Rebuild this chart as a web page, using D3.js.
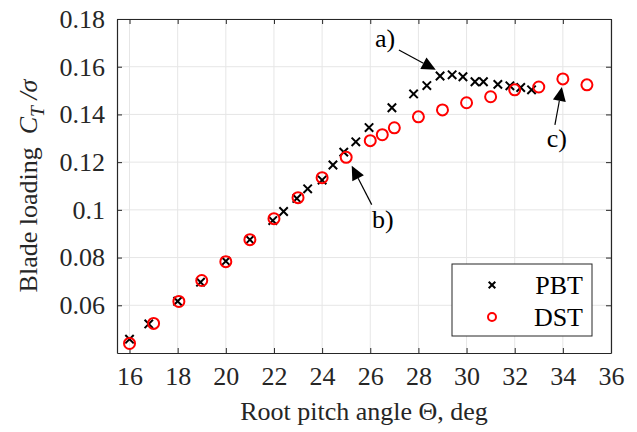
<!DOCTYPE html>
<html>
<head>
<meta charset="utf-8">
<script src="https://cdn.jsdelivr.net/npm/d3@7"></script>
<style>
  html, body { margin: 0; padding: 0; background: #fff; }
  svg { display: block; font-family: "Liberation Serif", "Times New Roman", serif; }
  text { white-space: pre; }
</style>
</head>
<body>
<svg id="chart" width="637" height="432"></svg>
<script>
// ---- data ----
const pbtPitch = [16, 16.8, 18.0, 18.95, 20, 21, 21.95, 22.4, 22.95, 23.4, 24.0, 24.45, 24.9, 25.4, 25.95, 26.9, 27.8, 28.35, 28.9, 29.4, 29.85, 30.35, 30.7, 31.3, 31.8, 32.25, 32.7];
const pbtLoad  = [0.0458, 0.0522, 0.0617, 0.0697, 0.0785, 0.0875, 0.0955, 0.0993, 0.1048, 0.1088, 0.1125, 0.1188, 0.1242, 0.1285, 0.1345, 0.1428, 0.1486, 0.1521, 0.1561, 0.1566, 0.1558, 0.1537, 0.1537, 0.1526, 0.1520, 0.1513, 0.1503];
const dstPitch = [16, 17, 18.05, 19, 20, 21, 22, 23, 24, 25, 26, 26.5, 27, 28, 29, 30, 31, 32, 33, 34, 35];
const dstLoad  = [0.0440, 0.0524, 0.0616, 0.0704, 0.0783, 0.0875, 0.0963, 0.1051, 0.1135, 0.1220, 0.1290, 0.1315, 0.1344, 0.1390, 0.1419, 0.1449, 0.1474, 0.1503, 0.1515, 0.1549, 0.1524];
const xTicks = [16, 18, 20, 22, 24, 26, 28, 30, 32, 34, 36];
const yTicks = [0.06, 0.08, 0.1, 0.12, 0.14, 0.16, 0.18];
const seriesNames = ["PBT", "DST"];
// annotations: [label, tailX, tailY, tipX, tipY, textX, textY]
const annotations = [
  ["a)", 27.19, 0.1670, 28.72, 0.1587, 26.62, 0.1683],
  ["b)", 26.06, 0.1022, 25.23, 0.1185, 26.52, 0.0925],
  ["c)", 33.67, 0.1356, 33.96, 0.1515, 33.75, 0.1262]
];

// ---- layout ----
const W = 637, H = 432;
const m = {left: 117, right: 26, top: 19, bottom: 79};
const svg = d3.select("#chart");
const x = d3.scaleLinear().domain([15.48, 36]).range([m.left, W - m.right]);
const y = d3.scaleLinear().domain([0.04, 0.18]).range([H - m.bottom, m.top]);
const axisCol = "#262626";
const fs = 26;

// grid
const g = svg.append("g");
g.selectAll(".gx").data(xTicks).join("line")
  .attr("x1", d => x(d)).attr("x2", d => x(d))
  .attr("y1", y.range()[0]).attr("y2", y.range()[1])
  .attr("stroke", "#e6e6e6").attr("stroke-width", 1);
g.selectAll(".gy").data(yTicks).join("line")
  .attr("y1", d => y(d)).attr("y2", d => y(d))
  .attr("x1", x.range()[0]).attr("x2", x.range()[1])
  .attr("stroke", "#e6e6e6").attr("stroke-width", 1);

// axes
const fmt = d => String(+d.toFixed(2));
const xb = svg.append("g").attr("transform", `translate(0,${y.range()[0]})`)
  .call(d3.axisBottom(x).tickValues(xTicks).tickSizeInner(-5).tickSizeOuter(0).tickPadding(14).tickFormat(d3.format("d")));
const xt = svg.append("g").attr("transform", `translate(0,${y.range()[1]})`)
  .call(d3.axisTop(x).tickValues(xTicks).tickSizeInner(-5).tickSizeOuter(0).tickFormat(""));
const yl = svg.append("g").attr("transform", `translate(${x.range()[0]},0)`)
  .call(d3.axisLeft(y).tickValues(yTicks).tickSizeInner(-5).tickSizeOuter(0).tickPadding(12).tickFormat(fmt));
const yr = svg.append("g").attr("transform", `translate(${x.range()[1]},0)`)
  .call(d3.axisRight(y).tickValues(yTicks).tickSizeInner(-5).tickSizeOuter(0).tickFormat(""));
[xb, xt, yl, yr].forEach(a => {
  a.attr("font-family", null).attr("font-size", null);
  a.select(".domain").attr("stroke", axisCol).attr("stroke-width", 1.2);
  a.selectAll(".tick line").attr("stroke", axisCol).attr("stroke-width", 1);
  a.selectAll("text").attr("fill", axisCol).style("font-size", fs + "px");
});
xb.selectAll("text").attr("dy", "0.71em");

// axis labels
svg.append("text").attr("x", (x.range()[0] + x.range()[1]) / 2).attr("y", 420)
  .attr("text-anchor", "middle").attr("fill", axisCol).style("font-size", fs + "px")
  .text("Root pitch angle \u0398, deg");
const ylab = svg.append("text")
  .attr("transform", `translate(37,${(y.range()[0] + y.range()[1]) / 2}) rotate(-90)`)
  .attr("text-anchor", "middle").attr("fill", axisCol).style("font-size", fs + "px");
ylab.append("tspan").text("Blade loading  ");
ylab.append("tspan").attr("font-style", "italic").text("C");
ylab.append("tspan").attr("font-style", "italic").attr("dy", 7).style("font-size", (fs * 0.75) + "px").text("T");
ylab.append("tspan").attr("font-style", "italic").attr("dy", -7).text(" /\u03C3");

// data marks
const pbt = pbtPitch.map((p, i) => ({p, v: pbtLoad[i]}));
const dst = dstPitch.map((p, i) => ({p, v: dstLoad[i]}));
const xs = 4.2;
const xMark = (sel, s) => sel.attr("d", `M${-s},${-s}L${s},${s}M${-s},${s}L${s},${-s}`)
  .attr("stroke", "#000").attr("stroke-width", 2).attr("fill", "none");

svg.append("g").selectAll("path").data(pbt).join("path")
  .attr("transform", d => `translate(${x(d.p)},${y(d.v)})`).call(xMark, xs);
svg.append("g").selectAll("circle").data(dst).join("circle")
  .attr("cx", d => x(d.p)).attr("cy", d => y(d.v)).attr("r", 5.5)
  .attr("fill", "none").attr("stroke", "#ff0000").attr("stroke-width", 2);

// annotations
const ag = svg.append("g");
annotations.forEach(([lab, tx, ty, hx, hy, lx, ly]) => {
  const x0 = x(tx), y0 = y(ty), x1 = x(hx), y1 = y(hy);
  const dx = x1 - x0, dy = y1 - y0, len = Math.hypot(dx, dy);
  const ux = dx / len, uy = dy / len;
  const hl = 14, hw = 6.5;
  const bx = x1 - ux * hl, by = y1 - uy * hl;
  ag.append("line").attr("x1", x0).attr("y1", y0).attr("x2", bx).attr("y2", by)
    .attr("stroke", "#000").attr("stroke-width", 1.2);
  ag.append("path")
    .attr("d", `M${x1},${y1}L${bx - uy * hw},${by + ux * hw}L${bx + uy * hw},${by - ux * hw}Z`)
    .attr("fill", "#000");
  ag.append("text").attr("x", x(lx)).attr("y", y(ly)).attr("text-anchor", "middle")
    .attr("fill", "#000").style("font-size", fs + "px").text(lab);
});

// legend
const lg = svg.append("g");
lg.append("rect").attr("x", 452).attr("y", 264).attr("width", 140).attr("height", 72)
  .attr("fill", "#fff").attr("stroke", axisCol).attr("stroke-width", 1);
seriesNames.forEach((name, i) => {
  const cy = 285 + i * 32;
  if (i === 0) {
    lg.append("path").attr("transform", `translate(492,${cy})`).call(xMark, 3.3);
  } else {
    lg.append("circle").attr("cx", 492).attr("cy", cy).attr("r", 4)
      .attr("fill", "none").attr("stroke", "#ff0000").attr("stroke-width", 2);
  }
  lg.append("text").attr("x", 583).attr("y", cy + 9).attr("text-anchor", "end")
    .attr("fill", "#000").style("font-size", fs + "px").text(name);
});
</script>
</body>
</html>
